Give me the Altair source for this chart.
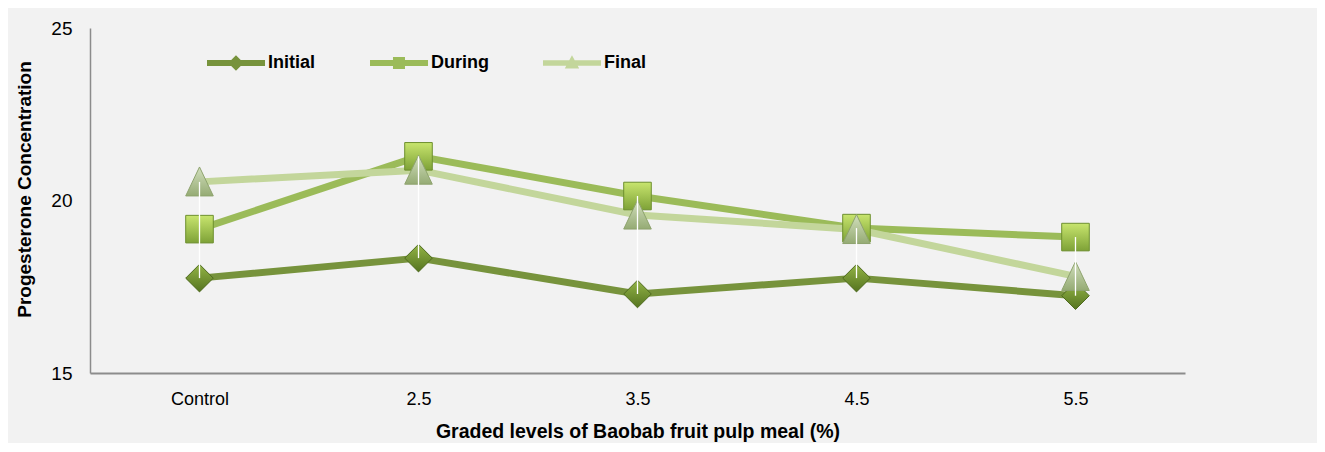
import altair as alt
import pandas as pd

categories = ["Control", "2.5", "3.5", "4.5", "5.5"]
series_names = ["Initial", "During", "Final"]
initial = [17.75, 18.33, 17.29, 17.75, 17.24]
during = [19.17, 21.28, 20.13, 19.20, 18.94]
final = [20.54, 20.88, 19.58, 19.16, 17.80]
y_ticks = [15, 20, 25]

line_colors = ["#77933c", "#9bbb59", "#c3d69b"]
marker_shapes = ["diamond", "square", "M0,-1.08L1,1.02L-1,1.02Z"]
marker_top = ["#93b446", "#c8e56e", "#d2dfbd"]
marker_bottom = ["#557420", "#7ea237", "#95ab74"]
marker_stroke = ["#4e6a1e", "#6d8f2e", "#8ea36e"]

rows = []
for name, vals in zip(series_names, [initial, during, final]):
    for c, v in zip(categories, vals):
        rows.append({"category": c, "series": name, "value": v})
df = pd.DataFrame(rows)

SANS = "Liberation Sans, Arial, sans-serif"

x_enc = alt.X(
    "category:N",
    sort=categories,
    scale=alt.Scale(type="point", padding=0.5),
    axis=alt.Axis(
        title="Graded levels of Baobab fruit pulp meal (%)",
        labelAngle=0, ticks=False, grid=False,
        domainColor="#8c8c8c", domainWidth=2,
        labelFont=SANS, labelFontSize=18, labelColor="#000000", labelPadding=17,
        titleFont=SANS, titleFontSize=19.5, titleFontWeight="bold", titleColor="#000000",
        titlePadding=14,
    ),
)
y_scale = alt.Scale(domain=[15, 25], nice=False, zero=False)
y_enc = alt.Y(
    "value:Q",
    scale=y_scale,
    axis=alt.Axis(
        values=y_ticks, title="Progesterone Concentration",
        ticks=False, grid=False, domainColor="#8c8c8c", domainWidth=1.5,
        labelFont=SANS, labelFontSize=19, labelColor="#000000", labelPadding=18,
        titleFont=SANS, titleFontSize=19, titleFontWeight="bold", titleColor="#000000",
        titlePadding=16, titleY=161,
    ),
)

base = alt.Chart(df)

lines = base.mark_line(strokeWidth=7, strokeJoin="round").encode(
    x=x_enc, y=y_enc,
    color=alt.Color("series:N", scale=alt.Scale(domain=series_names, range=line_colors), legend=None),
    detail="series:N",
)

point_layers = []
for name, shp, top, bot, stk in zip(series_names, marker_shapes, marker_top, marker_bottom, marker_stroke):
    grad = alt.Gradient(
        gradient="linear",
        stops=[alt.GradientStop(offset=0, color=top), alt.GradientStop(offset=1, color=bot)],
        x1=0, x2=0, y1=0, y2=1,
    )
    point_layers.append(
        base.transform_filter(alt.datum.series == name).mark_point(
            filled=True, shape=shp, size=760, fill=grad, stroke=stk, strokeWidth=1, opacity=1
        ).encode(x=x_enc, y=y_enc)
    )

hilo = base.mark_rule(color="#ffffff", strokeWidth=1.3).encode(
    x=x_enc,
    y=alt.Y("max(value):Q", scale=y_scale),
    y2=alt.Y2("min(value):Q"),
)

legend_paths = [
    "M-1,-0.5H8.67V0.5H-1Z M2.53,0L3.83,-1.3L5.13,0L3.83,1.3Z",
    "M-1,-0.5H8.67V0.5H-1Z M2.83,-1H4.83V1H2.83Z",
    "M-1,-0.45H8.67V0.45H-1Z M3.83,-1.3L5.03,0.9L2.63,0.9Z",
]
leg = alt.Legend(
    title=None, orient="none", legendX=114, legendY=26, direction="horizontal",
    symbolSize=144, symbolStrokeWidth=0, symbolOpacity=1,
    labelOffset=46, columnPadding=51, padding=0,
    labelFont=SANS, labelFontSize=18, labelFontWeight="bold", labelColor="#000000",
)
legend_layer = base.mark_point(filled=True, opacity=0, size=10).encode(
    x=x_enc, y=y_enc,
    shape=alt.Shape("series:N", scale=alt.Scale(domain=series_names, range=legend_paths), legend=leg),
    fill=alt.Fill("series:N", scale=alt.Scale(domain=series_names, range=line_colors), legend=leg),
)

chart = alt.layer(lines, *point_layers, hilo, legend_layer).resolve_scale(
    color="independent", fill="independent", shape="independent"
).properties(
    width=1095, height=345,
    autosize=alt.AutoSizeParams(type="none"),
    padding={"left": 82, "top": 20, "right": 132, "bottom": 70},
    background="#f2f2f2",
).configure_view(stroke=None)

chart.save("out.html", embed_options={"renderer": "svg", "actions": False})
